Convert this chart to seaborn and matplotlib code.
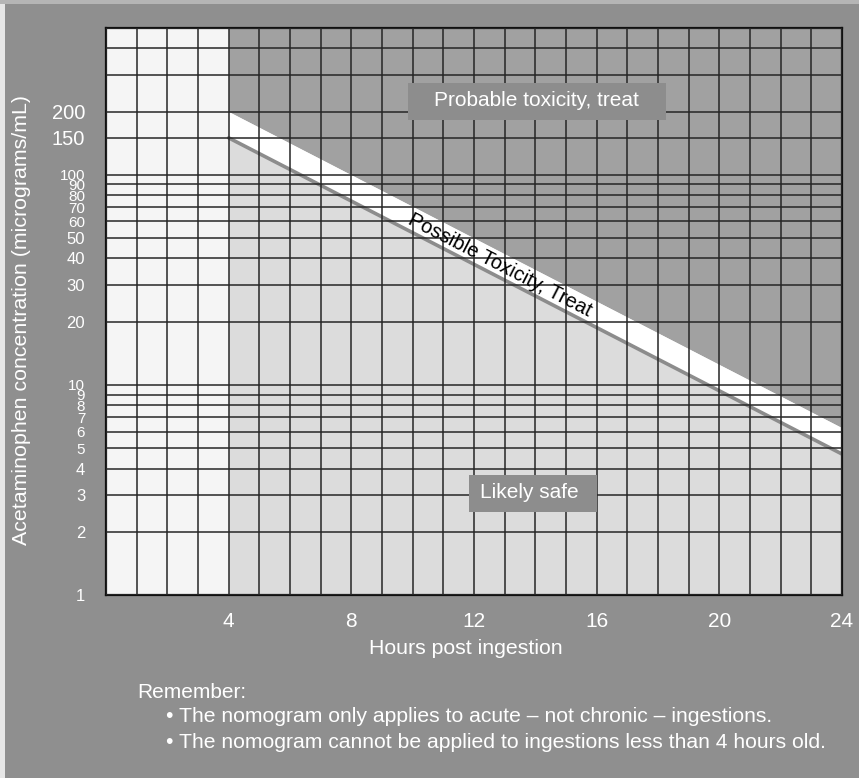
import math
from matplotlib import pyplot as plt
from matplotlib.patches import Rectangle
import seaborn as sns

# nomogram treatment lines (hours post ingestion vs concentration)
hours = [4, 8, 12, 16, 20, 24]
treat_line = [200, 100, 50, 25, 12.5, 6.25]
lower_line = [150, 75, 37.5, 18.75, 9.375, 4.6875]

x_ticks = [4, 8, 12, 16, 20, 24]
x_minor = list(range(0, 25))
y_ticks = [1, 2, 3, 4, 5, 6, 7, 8, 9, 10, 20, 30, 40, 50, 60, 70, 80, 90,
           100, 150, 200]
y_tick_labels = [str(v) for v in y_ticks]
y_minor = [300, 400, 500]

# region labels: (x, y) text centre, and box extents (x0, x1, y0, y1)
probable_pos = (14.02, 226)
probable_box = (9.85, 18.26, 182, 274)
safe_pos = (13.81, 3.06)
safe_box = (11.84, 16.01, 2.48, 3.73)
possible_pos = (12.85, 37)

BG = '#8f8f8f'
DARK = '#a1a1a1'
LIGHT = '#dcdcdc'
PALE = '#f5f5f5'
BOX = '#8d8d8d'
GRID = '#262626'

sns.set_theme(style="white")
plt.rcParams['font.family'] = ['Liberation Sans', 'DejaVu Sans']

fig = plt.figure(figsize=(8.59, 7.78), dpi=100, facecolor=BG)
ax = fig.add_axes([106 / 859, 1 - 595 / 778, 736 / 859, 567 / 778])
ax.set_yscale('log')
ax.set_xlim(0, 24)
ax.set_ylim(1, 500)
ax.set_facecolor(PALE)

# shaded zones
ax.fill_between(hours, treat_line, 500, color=DARK, lw=0, zorder=1)
ax.fill_between(hours, lower_line, treat_line, color='white', lw=0, zorder=1)
ax.fill_between(hours, 1, lower_line, color=LIGHT, lw=0, zorder=1)
sns.lineplot(x=hours, y=lower_line, color='#8c8c8c', lw=2.6, ax=ax, zorder=2)

# grid
ax.set_xticks(x_ticks)
ax.set_xticks(x_minor, minor=True)
ax.set_yticks(y_ticks)
ax.set_yticks(y_minor, minor=True)
ax.set_yticklabels(y_tick_labels)
ax.yaxis.set_minor_formatter(plt.NullFormatter())
ax.grid(which='both', color=GRID, lw=1.1)
ax.set_axisbelow(False)
ax.tick_params(which='both', length=0, colors='white')
ax.tick_params(axis='y', pad=15, labelsize=12)
ax.tick_params(axis='x', pad=12, labelsize=15)
for lab, v in zip(ax.get_yticklabels(), y_ticks):
    if v >= 150:
        lab.set_fontsize(14.5)
    elif 60 <= v <= 100 or 5 <= v <= 10:
        lab.set_fontsize(11)
for s in ax.spines.values():
    s.set_color('#111111')
    s.set_linewidth(1.6)

# label boxes
for (x0, x1, y0, y1) in [probable_box, safe_box]:
    ax.add_patch(Rectangle((x0, y0), x1 - x0, y1 - y0, facecolor=BOX,
                           edgecolor='none', zorder=3))
ax.text(*probable_pos, 'Probable toxicity, treat', color='white',
        fontsize=15, ha='center', va='center', zorder=4)
ax.text(*safe_pos, 'Likely safe', color='white',
        fontsize=15, ha='center', va='center', zorder=4)

p1 = ax.transData.transform((hours[1], treat_line[1]))
p2 = ax.transData.transform((hours[2], treat_line[2]))
angle = math.degrees(math.atan2(p2[1] - p1[1], p2[0] - p1[0]))
ax.text(*possible_pos, 'Possible Toxicity, Treat', color='black',
        fontsize=14.5, ha='center', va='center', rotation=angle,
        rotation_mode='anchor', zorder=4)

# axis titles and notes
fig.text(22 / 859, 1 - 320 / 778, 'Acetaminophen concentration (micrograms/mL)',
         rotation=90, ha='center', va='center', color='white', fontsize=15.4)
fig.text(466 / 859, 1 - 648 / 778, 'Hours post ingestion',
         ha='center', va='center', color='white', fontsize=15.3)
fig.text(137 / 859, 1 - 692 / 778, 'Remember:',
         ha='left', va='center', color='white', fontsize=15)
fig.text(166 / 859, 1 - 717 / 778,
         '\u2022 The nomogram only applies to acute \u2013 not chronic \u2013 ingestions.',
         ha='left', va='center', color='white', fontsize=15.2)
fig.text(166 / 859, 1 - 743 / 778,
         '\u2022 The nomogram cannot be applied to ingestions less than 4 hours old.',
         ha='left', va='center', color='white', fontsize=15.2)

# pale scan edges
fig.add_artist(Rectangle((0, 0), 5 / 859, 1, transform=fig.transFigure,
                         facecolor='#e6e6e6', edgecolor='none'))
fig.add_artist(Rectangle((0, 1 - 4 / 778), 1, 4 / 778, transform=fig.transFigure,
                         facecolor='#b5b5b5', edgecolor='none'))

fig.savefig('out.png', dpi=100, facecolor=BG)
